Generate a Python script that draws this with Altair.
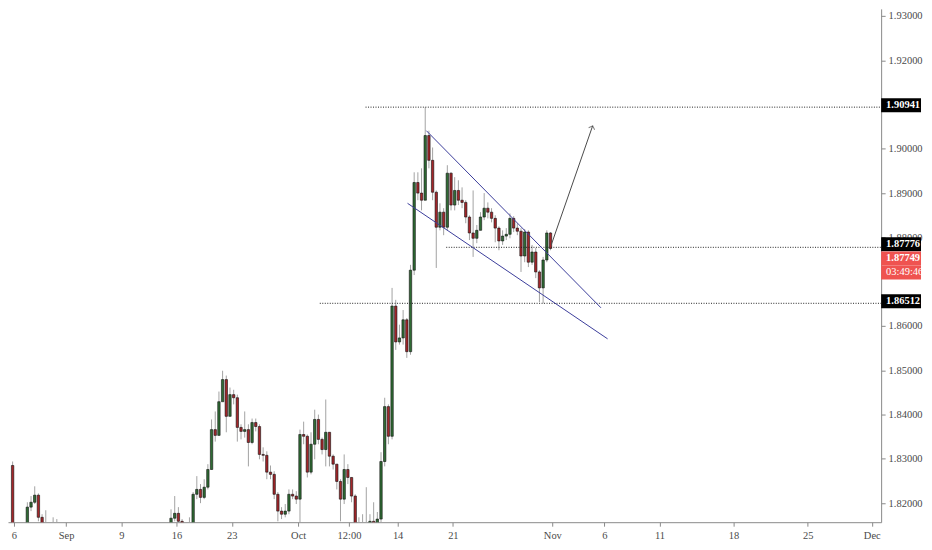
import json
import altair as alt
import pandas as pd

# ---------------- data ----------------
FIRST_OPEN = 1.8285
CANDLES_PER_DAY = 3

close = [
    1.8120, 1.8095, 1.8082, 1.8118, 1.8191, 1.8202, 1.8218, 1.8168, 1.8150, 1.8120,
    1.8100, 1.8092, 1.8105, 1.8088,
    1.8075, 1.8060, 1.8072, 1.8085, 1.8068, 1.8050, 1.8040, 1.8055, 1.8070, 1.8062,
    1.8048, 1.8035, 1.8045, 1.8060, 1.8078, 1.8090, 1.8082, 1.8070, 1.8058, 1.8065,
    1.8080, 1.8095, 1.8105, 1.8098, 1.8110, 1.8120, 1.8115, 1.8128,
    1.8140, 1.8166, 1.8177, 1.8159, 1.8135, 1.8130, 1.8148, 1.8220, 1.8231, 1.8213,
    1.8236, 1.8276, 1.8366, 1.8353, 1.8429, 1.8479, 1.8396, 1.8445, 1.8438, 1.8371,
    1.8362, 1.8366, 1.8337, 1.8382, 1.8373, 1.8310, 1.8308, 1.8270, 1.8265, 1.8220,
    1.8182, 1.8175, 1.8182, 1.8220, 1.8216, 1.8209, 1.8355, 1.8351, 1.8270, 1.8333,
    1.8389, 1.8344, 1.8321, 1.8360, 1.8306, 1.8288, 1.8249, 1.8209, 1.8276, 1.8258,
    1.8216, 1.8140, 1.8130, 1.8135, 1.8140, 1.8159, 1.8145, 1.8164, 1.8294, 1.8418,
    1.8351, 1.8645, 1.8564, 1.8573, 1.8614, 1.8542, 1.8726, 1.8924, 1.8900, 1.8884,
    1.9030, 1.8974, 1.8902, 1.8823, 1.8857, 1.8823, 1.8945, 1.8873, 1.8906, 1.8884,
    1.8879, 1.8846, 1.8810, 1.8798, 1.8816, 1.8846, 1.8866, 1.8857, 1.8843, 1.8821,
    1.8792, 1.8803, 1.8807, 1.8843, 1.8821, 1.8814, 1.8758, 1.8812, 1.8744, 1.8767,
    1.8722, 1.8686, 1.8749, 1.8810, 1.8775,
]
high = [
    1.8294, 1.8125, 1.8110, 1.8140, 1.8202, 1.8216, 1.8238, 1.8222, 1.8175, 1.8184,
    1.8135, 1.8168, 1.8164, 1.8155,
    1.8092, 1.8080, 1.8085, 1.8098, 1.8088, 1.8070, 1.8058, 1.8068, 1.8082, 1.8078,
    1.8065, 1.8055, 1.8060, 1.8075, 1.8090, 1.8102, 1.8098, 1.8086, 1.8075, 1.8078,
    1.8092, 1.8108, 1.8118, 1.8114, 1.8122, 1.8134, 1.8130, 1.8140,
    1.8155, 1.8186, 1.8216, 1.8191, 1.8164, 1.8153, 1.8168, 1.8225, 1.8261, 1.8243,
    1.8254, 1.8288, 1.8389, 1.8407, 1.8452, 1.8499, 1.8488, 1.8461, 1.8456, 1.8445,
    1.8378, 1.8407, 1.8378, 1.8391, 1.8391, 1.8378, 1.8326, 1.8317, 1.8285, 1.8272,
    1.8225, 1.8191, 1.8198, 1.8231, 1.8231, 1.8227, 1.8366, 1.8384, 1.8355, 1.8360,
    1.8411, 1.8400, 1.8348, 1.8434, 1.8360, 1.8310, 1.8276, 1.8254, 1.8310, 1.8288,
    1.8258, 1.8220, 1.8168, 1.8175, 1.8236, 1.8175, 1.8202, 1.8180, 1.8315, 1.8438,
    1.8423, 1.8686, 1.8659, 1.8603, 1.8636, 1.8618, 1.8738, 1.8947, 1.8947, 1.8956,
    1.9094, 1.9041, 1.9003, 1.8906, 1.8877, 1.8866, 1.8963, 1.8947, 1.8936, 1.8929,
    1.8913, 1.8884, 1.8850, 1.8906, 1.8828, 1.8857, 1.8900, 1.8879, 1.8866, 1.8850,
    1.8825, 1.8816, 1.8821, 1.8854, 1.8848, 1.8832, 1.8821, 1.8819, 1.8816, 1.8783,
    1.8776, 1.8726, 1.8756, 1.8816, 1.8812,
]
low = [
    1.8100, 1.8080, 1.8070, 1.8075, 1.8110, 1.8182, 1.8198, 1.8159, 1.8130, 1.8105,
    1.8085, 1.8080, 1.8085, 1.8070,
    1.8062, 1.8048, 1.8055, 1.8066, 1.8055, 1.8040, 1.8028, 1.8035, 1.8050, 1.8050,
    1.8036, 1.8025, 1.8030, 1.8042, 1.8055, 1.8075, 1.8070, 1.8058, 1.8045, 1.8050,
    1.8062, 1.8075, 1.8090, 1.8088, 1.8092, 1.8105, 1.8100, 1.8110,
    1.8120, 1.8135, 1.8159, 1.8140, 1.8120, 1.8115, 1.8125, 1.8140, 1.8209, 1.8200,
    1.8209, 1.8231, 1.8276, 1.8339, 1.8353, 1.8434, 1.8360, 1.8411, 1.8423, 1.8339,
    1.8344, 1.8348, 1.8283, 1.8333, 1.8362, 1.8299, 1.8294, 1.8254, 1.8254, 1.8209,
    1.8159, 1.8164, 1.8168, 1.8175, 1.8209, 1.8198, 1.8130, 1.8333, 1.8258, 1.8265,
    1.8299, 1.8333, 1.8310, 1.8283, 1.8283, 1.8276, 1.8231, 1.8159, 1.8198, 1.8243,
    1.8202, 1.8120, 1.8110, 1.8115, 1.8120, 1.8130, 1.8125, 1.8130, 1.8140, 1.8283,
    1.8333, 1.8344, 1.8546, 1.8558, 1.8558, 1.8528, 1.8535, 1.8715, 1.8884, 1.8861,
    1.8884, 1.8956, 1.8884, 1.8731, 1.8816, 1.8805, 1.8816, 1.8861, 1.8861, 1.8873,
    1.8866, 1.8832, 1.8794, 1.8756, 1.8787, 1.8816, 1.8839, 1.8843, 1.8834, 1.8789,
    1.8771, 1.8783, 1.8794, 1.8798, 1.8812, 1.8805, 1.8722, 1.8744, 1.8733, 1.8738,
    1.8708, 1.8654, 1.8651, 1.8744, 1.8771,
]

# x axis (trading-day units, 26 Aug = 0)
tick_days = [0.27, 5, 10, 15, 20, 26, 30.6, 35, 40, 49, 53.7, 58.7, 65.4, 72.1, 77.9]
tick_labels = ["6", "Sep", "9", "16", "23", "Oct", "12:00", "14", "21", "Nov",
               "6", "11", "18", "25", "Dec"]
# 1.91000 and 1.87000 are hidden behind the price boxes in the reference
price_ticks = [1.82, 1.83, 1.84, 1.85, 1.86, 1.88, 1.89, 1.90, 1.92, 1.93]

# horizontal levels (price, start day)
level_prices = [1.90941, 1.87776, 1.86512]
level_start = [32.1, 39.4, 27.96]
level_end = 80

# channel lines
channel_id = ["upper", "upper", "lower", "lower"]
channel_day = [37.6, 53.4, 35.9, 54.0]
channel_price = [1.9041, 1.8641, 1.8877, 1.8571]

# arrow
arrow_day = [48.9, 52.65]
arrow_price = [1.8783, 1.9052]

# right-hand price boxes
box_text = ["1.90941", "1.87776", "1.87749", "03:49:46", "1.86512"]
box_price = [1.90941, 1.87776, 1.87749, 1.87749, 1.86512]

# ---------------- chart ----------------
W, H = 876, 515
XDOM = [0.2, 78.3]
YDOM = [1.8157, 1.9316]
FONT = "Liberation Sans Narrow"

opens = [FIRST_OPEN] + close[:-1]
df = pd.DataFrame({
    "t": [(i + 0.5) / CANDLES_PER_DAY for i in range(len(close))],
    "open": opens, "close": close, "high": high, "low": low,
})
df["dir"] = ["up" if c >= o else "down" for o, c in zip(df["open"], df["close"])]

label_expr = f"{json.dumps(tick_labels)}[indexof({json.dumps(tick_days)}, datum.value)]"
x_axis = alt.Axis(values=tick_days, labelExpr=label_expr, title=None, grid=False,
                  tickSize=4, labelPadding=4, labelFontSize=10.5, labelFont=FONT)
y_axis = alt.Axis(orient="right", values=price_ticks, format=".5f", title=None,
                  grid=False, tickSize=4, labelPadding=3, labelFontSize=10.5, labelFont=FONT)
xs = alt.Scale(domain=XDOM, nice=False, zero=False)
ys = alt.Scale(domain=YDOM, nice=False, zero=False)


def X(f):
    return alt.X(f, type="quantitative", scale=xs, axis=x_axis)


def Y(f):
    return alt.Y(f, type="quantitative", scale=ys, axis=y_axis)


wicks = alt.Chart(df).mark_rule(color="#a3a3a3", strokeWidth=1, clip=True).encode(
    x=X("t"), y=Y("low"), y2="high")
bodies = alt.Chart(df).mark_bar(size=2.4, stroke="#111111", strokeWidth=0.6, clip=True).encode(
    x=X("t"), y=Y("open"), y2="close",
    color=alt.Color("dir:N", scale=alt.Scale(domain=["up", "down"],
                                              range=["#2f6b34", "#a3262a"]), legend=None))

lv = pd.DataFrame({"p": level_prices, "d0": level_start, "d1": [level_end] * 3})
levels = alt.Chart(lv).mark_rule(color="#222222", strokeWidth=1, strokeDash=[1, 1.5],
                                 clip=True).encode(x=X("d0"), x2="d1", y=Y("p"))

ch = pd.DataFrame({"id": channel_id, "d": channel_day, "p": channel_price})
channel = alt.Chart(ch).mark_line(color="#3b3d9b", strokeWidth=1, clip=True).encode(
    x=X("d"), y=Y("p"), detail="id:N")

ar = pd.DataFrame({"d": arrow_day, "p": arrow_price})
arrow_line = alt.Chart(ar).mark_line(color="#4a4a4a", strokeWidth=1).encode(
    x=X("d"), y=Y("p"))
arrow_head = alt.Chart(ar.tail(1)).mark_point(
    shape="M-1,1L0,0L1,1", filled=False, color="#4a4a4a", strokeWidth=1, size=40, angle=19
).encode(x=X("d"), y=Y("p"))

layers = [wicks, bodies, levels, channel, arrow_line, arrow_head]

box_style = [(-2, "#000000", "bold"), (-3, "#000000", "bold"), (10, "#ef5350", "bold"),
             (24, "#ef5350", "normal"), (-2, "#000000", "bold")]
for txt, p, (off, col, fw) in zip(box_text, box_price, box_style):
    bdf = pd.DataFrame({"p": [p], "txt": [txt]})
    layers.append(alt.Chart(bdf).mark_tick(orient="horizontal", size=40, thickness=14,
                                           color=col, opacity=1, yOffset=off).encode(
        x=alt.value(W + 20), y=Y("p")))
    layers.append(alt.Chart(bdf).mark_text(color="white", fontSize=10.5, font=FONT,
                                           fontWeight=fw, align="left", baseline="middle",
                                           yOffset=off).encode(
        x=alt.value(W + 5), y=Y("p"), text="txt:N"))

chart = alt.layer(*layers).properties(
    width=W, height=H, padding=0, background="white"
).configure_view(stroke=None).configure_axis(
    domainColor="#8a8a8a", tickColor="#8a8a8a", labelColor="#4a4a4a", domainWidth=1
)

chart.save("out.html", embed_options={"renderer": "svg", "actions": False})
